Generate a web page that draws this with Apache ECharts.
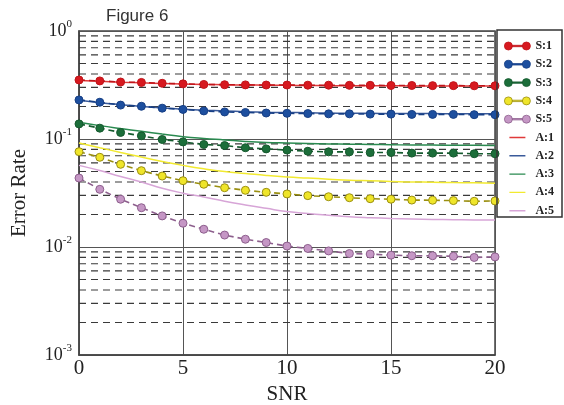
<!DOCTYPE html>
<html>
<head>
<meta charset="utf-8">
<script src="https://cdn.jsdelivr.net/npm/echarts@6/dist/echarts.min.js"></script>
<style>html,body{margin:0;padding:0;background:#fff}#c{width:564px;height:405px}</style>
</head>
<body>
<div id="c"></div>
<script>
const snr = [0,1,2,3,4,5,6,7,8,9,10,11,12,13,14,15,16,17,18,19,20];
const S1 = [0.352,0.345,0.337,0.334,0.328,0.324,0.320,0.318,0.317,0.316,0.316,0.315,0.315,0.314,0.314,0.313,0.313,0.312,0.312,0.311,0.311];
const S2 = [0.230,0.219,0.206,0.201,0.193,0.188,0.182,0.178,0.176,0.174,0.173,0.172,0.171,0.171,0.170,0.170,0.169,0.169,0.169,0.168,0.168];
const S3 = [0.138,0.126,0.115,0.107,0.099,0.094,0.089,0.087,0.083,0.081,0.079,0.077,0.076,0.076,0.075,0.075,0.074,0.074,0.074,0.073,0.073];
const S4 = [0.0763,0.0677,0.0583,0.0509,0.0454,0.0411,0.0381,0.0354,0.0335,0.0321,0.0310,0.0299,0.0292,0.0286,0.0280,0.0277,0.0272,0.0271,0.0269,0.0265,0.0267];
const S5 = [0.0435,0.0342,0.0277,0.0231,0.0194,0.0166,0.0146,0.0129,0.0118,0.0110,0.0102,0.0097,0.0092,0.0087,0.0086,0.0084,0.0083,0.0083,0.0082,0.0080,0.0081];
const A1 = [0.348,0.342,0.336,0.331,0.327,0.323,0.320,0.318,0.316,0.315,0.314,0.313,0.312,0.312,0.311,0.311,0.310,0.310,0.310,0.309,0.309];
const A2 = [0.228,0.217,0.208,0.200,0.194,0.189,0.185,0.182,0.179,0.177,0.176,0.175,0.174,0.173,0.173,0.172,0.172,0.172,0.171,0.171,0.171];
const A3 = [0.143,0.133,0.125,0.118,0.111,0.105,0.101,0.098,0.095,0.093,0.092,0.091,0.090,0.0895,0.089,0.0885,0.088,0.088,0.0875,0.0875,0.087];
const A4 = [0.092,0.083,0.075,0.068,0.062,0.057,0.053,0.050,0.048,0.046,0.0445,0.0435,0.0425,0.0415,0.041,0.0405,0.040,0.0398,0.0395,0.0393,0.039];
const A5 = [0.057,0.051,0.045,0.040,0.035,0.0315,0.029,0.0265,0.0245,0.0228,0.0213,0.0204,0.0197,0.0191,0.0187,0.0184,0.0182,0.018,0.0179,0.0178,0.0178];
const sNames = ['S:1','S:2','S:3','S:4','S:5'];
const aNames = ['A:1','A:2','A:3','A:4','A:5'];
const xTicks = [0,5,10,15,20];
const decades = [0.001,0.01,0.1];
const minorMult = [2,3,4,5,6,7,8,9];

const sFill = ['#d7191f','#1d4f9f','#1c6e3a','#efe52a','#c597c5'];
const sBorder = ['#c0141a','#173f85','#155a2e','#9a8f10','#8d5f8d'];
const aColor = ['#e03a3a','#3a5a9a','#2a8a50','#f2ea30','#d7a5d7'];

const sData = [S1,S2,S3,S4,S5];
const aData = [A1,A2,A3,A4,A5];
const pairs = arr => arr.map((v,i)=>[snr[i], v]);

const minorVals = [];
decades.forEach(d => minorMult.forEach(m => minorVals.push(+(d*m).toPrecision(3))));

const iconS = 'path://M0,5a4,4 0 1,0 8,0a4,4 0 1,0 -8,0zM18,5a4,4 0 1,0 8,0a4,4 0 1,0 -8,0zM8,4.3h10v1.4h-10z';
const iconA = 'path://M0,0h0.01v0.01h-0.01zM5,4.3h16v1.4h-16zM25.99,9.99h0.01v0.01h-0.01z';

const series = [];
minorVals.forEach(v=>{
  series.push({type:'line', name:'g'+v, data:[[snr[0], v],[snr[snr.length-1], v]], silent:true,
    symbol:'none', lineStyle:{color:'#3a3a3a', width:1.2, type:[7,5]}, z:1});
});
aData.forEach((arr,i)=>{
  series.push({type:'line', name:aNames[i], data:pairs(arr), symbol:'none', smooth:true,
    lineStyle:{color:aColor[i], width:1.5}, itemStyle:{color:aColor[i]}, z:3});
});
sData.forEach((arr,i)=>{
  series.push({type:'line', name:sNames[i], data:pairs(arr), symbol:'circle', symbolSize:8,
    lineStyle:{color:sBorder[i], width:1.6, type:[6,4]},
    itemStyle:{color:sFill[i], borderColor:sBorder[i], borderWidth:1}, z:4});
});

const chart = echarts.init(document.getElementById('c'));
chart.setOption({
  animation:false,
  backgroundColor:'#fff',
  title:{text:'Figure 6', left:101, top:3, textStyle:{fontFamily:'Liberation Sans', fontSize:17, fontWeight:'normal', color:'#333'}},
  grid:{left:79, right:69, top:31, bottom:50, show:true, borderColor:'#444', borderWidth:1.5, containLabel:false, outerBoundsMode:'none'},
  legend:{
    orient:'vertical', left:499, top:34, itemWidth:26, itemHeight:10, itemGap:4.3,
    textStyle:{fontFamily:'Liberation Serif', fontSize:12, fontWeight:'bold', color:'#222', lineHeight:14},
    data: sNames.map((n,i)=>({name:n, icon:iconS, itemStyle:{color:sFill[i], borderColor:sBorder[i], borderWidth:0.8}}))
          .concat(aNames.map((n,i)=>({name:n, icon:iconA, itemStyle:{color:aColor[i], borderWidth:0}})))
  },
  graphic:[{type:'rect', shape:{x:497, y:30, width:65, height:187}, style:{fill:'none', stroke:'#333', lineWidth:1.5}, z:100}],
  xAxis:{
    type:'value', min:0, max:20, interval:5,
    name:'SNR', nameLocation:'middle', nameGap:25,
    nameTextStyle:{fontFamily:'Liberation Serif', fontSize:21, color:'#222'},
    axisLine:{show:true, lineStyle:{color:'#444', width:1.5}},
    axisTick:{show:false},
    axisLabel:{fontFamily:'Liberation Serif', fontSize:21, color:'#222', margin:3,
      formatter: v => xTicks.includes(v) ? String(v) : ''},
    splitLine:{show:true, lineStyle:{color:'#555', width:1}}
  },
  yAxis:{
    type:'log', logBase:10, min:0.001, max:1,
    name:'Error Rate', nameLocation:'middle', nameGap:49,
    nameTextStyle:{fontFamily:'Liberation Serif', fontSize:21, color:'#222'},
    axisLine:{show:true, lineStyle:{color:'#444', width:1.5}},
    axisTick:{show:false},
    axisLabel:{margin:7, formatter: v => '{b|10}{s|' + Math.round(Math.log10(v)) + '}',
      rich:{ b:{fontFamily:'Liberation Serif', fontSize:18, lineHeight:24, color:'#222'},
             s:{fontFamily:'Liberation Serif', fontSize:11, lineHeight:11, verticalAlign:'top', color:'#222'} }},
    splitLine:{show:true, lineStyle:{color:'#555', width:1}}
  },
  series: series
});
</script>
</body>
</html>
